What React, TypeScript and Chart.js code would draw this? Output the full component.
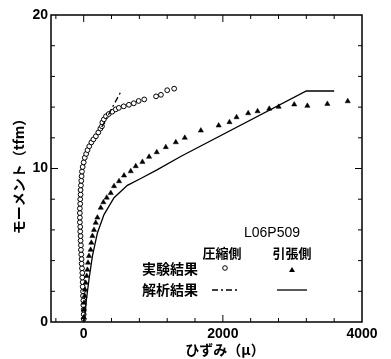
import React, { useEffect, useRef } from "react";
import { Chart, registerables } from "chart.js";

Chart.register(...registerables);

const xTickValues = [0, 2000, 4000];
const yTickValues = [0, 10, 20];

// 実験結果 圧縮側 (circles)
const compStrain = [0, 0, 0, -5, -5, -10, -10, -15, -15, -20, -20, -25, -30, -30, -35, -40, -40, -45, -45, -50, -50, -55, -55, -55, -55, -50, -50, -45, -45, -40, -35, -30, -25, -15, 0, 15, 35, 55, 80, 110, 140, 175, 210, 240, 262, 268, 290, 320, 360, 410, 460, 505, 575, 650, 720, 790, 870, 1040, 1110, 1200, 1300];
const compMoment = [0.2, 0.5, 0.8, 1.1, 1.4, 1.7, 2.0, 2.3, 2.6, 2.9, 3.2, 3.5, 3.8, 4.1, 4.4, 4.7, 5.0, 5.3, 5.6, 5.9, 6.2, 6.5, 6.8, 7.1, 7.4, 7.7, 8.0, 8.3, 8.6, 8.9, 9.2, 9.5, 9.8, 10.1, 10.4, 10.7, 10.95, 11.2, 11.45, 11.7, 11.9, 12.1, 12.35, 12.6, 12.75, 13.0, 13.2, 13.4, 13.55, 13.7, 13.85, 13.95, 14.05, 14.15, 14.25, 14.4, 14.5, 14.7, 14.8, 15.1, 15.2];

// 実験結果 引張側 (triangles)
const tensStrain = [0, 0, 5, 14, 19, 29, 43, 53, 62, 76, 100, 110, 125, 148, 173, 197, 245, 283, 331, 389, 436, 508, 580, 676, 748, 844, 940, 1050, 1180, 1324, 1453, 1684, 1940, 2095, 2197, 2364, 2499, 2667, 2802, 3026, 3215, 3502, 3795];
const tensMoment = [0.3, 0.8, 1.25, 1.7, 2.1, 2.55, 3.0, 3.4, 3.86, 4.3, 4.7, 5.16, 5.6, 6.0, 6.46, 6.8, 7.44, 7.8, 8.1, 8.4, 8.85, 9.17, 9.54, 9.82, 10.15, 10.43, 10.76, 11.06, 11.39, 11.71, 12.0, 12.47, 12.8, 13.02, 13.34, 13.6, 13.73, 13.89, 14.02, 14.17, 14.08, 14.21, 14.38];

// 解析結果 圧縮側 (dash-dot)
const anaCompStrain = [260, 545];
const anaCompMoment = [12.7, 15.1];

// 解析結果 引張側 (solid)
const anaTensStrain = [0, 14, 40, 76, 125, 197, 292, 436, 628, 820, 1060, 1400, 3200, 3600];
const anaTensMoment = [0, 0.3, 1.5, 2.77, 4.29, 5.8, 7.0, 8.1, 8.9, 9.35, 9.93, 10.8, 15.05, 15.05];

const toPts = (xs: number[], ys: number[]) => xs.map((x, i) => ({ x, y: ys[i] }));

const FONT_NUM = '"Liberation Sans", Arial, sans-serif';
const FONT_JP = '"Noto Sans CJK JP", "Noto Sans", sans-serif';

const framePlugin = {
  id: "frame",
  afterDatasetsDraw(chart: any) {
    const ctx = chart.ctx;
    const { left, right, top, bottom } = chart.chartArea;
    const xs = chart.scales.x;
    const ys = chart.scales.y;
    ctx.save();
    ctx.strokeStyle = "#000";
    ctx.lineWidth = 1.5;
    ctx.strokeRect(left, top, right - left, bottom - top);
    ctx.lineWidth = 1;
    for (let v = -400; v <= 4000; v += 400) {
      const px = xs.getPixelForValue(v);
      if (px < left + 1 || px > right - 1) continue;
      const len = v % 2000 === 0 ? 7 : 4;
      ctx.beginPath();
      ctx.moveTo(px, bottom);
      ctx.lineTo(px, bottom - len);
      ctx.moveTo(px, top);
      ctx.lineTo(px, top + len);
      ctx.stroke();
    }
    for (let v = 0; v <= 20; v += 2) {
      const py = ys.getPixelForValue(v);
      if (py < top + 1 || py > bottom - 1) continue;
      const len = v % 10 === 0 ? 7 : 4;
      ctx.beginPath();
      ctx.moveTo(left, py);
      ctx.lineTo(left + len, py);
      ctx.moveTo(right, py);
      ctx.lineTo(right - len, py);
      ctx.stroke();
    }
    ctx.restore();
  },
};

const annotPlugin = {
  id: "annot",
  afterDraw(chart: any) {
    const ctx = chart.ctx;
    ctx.save();
    ctx.fillStyle = "#000";
    ctx.strokeStyle = "#000";
    ctx.textAlign = "center";
    ctx.textBaseline = "middle";
    // legend
    ctx.font = `14px ${FONT_NUM}`;
    ctx.fillText("L06P509", 272, 233);
    ctx.font = `bold 13px ${FONT_JP}`;
    ctx.fillText("圧縮側", 222, 253);
    ctx.fillText("引張側", 292, 253);
    ctx.font = `bold 14px ${FONT_JP}`;
    ctx.fillText("実験結果", 170, 269);
    ctx.fillText("解析結果", 170, 290);
    // markers
    ctx.lineWidth = 1;
    ctx.beginPath();
    ctx.arc(225, 268, 2.3, 0, Math.PI * 2);
    ctx.fillStyle = "#fff";
    ctx.fill();
    ctx.stroke();
    ctx.fillStyle = "#000";
    ctx.beginPath();
    ctx.moveTo(292, 267);
    ctx.lineTo(295, 272);
    ctx.lineTo(289, 272);
    ctx.closePath();
    ctx.fill();
    ctx.lineWidth = 1.3;
    ctx.setLineDash([6, 3, 2, 3]);
    ctx.beginPath();
    ctx.moveTo(212, 290);
    ctx.lineTo(238, 290);
    ctx.stroke();
    ctx.setLineDash([]);
    ctx.beginPath();
    ctx.moveTo(277, 290);
    ctx.lineTo(307, 290);
    ctx.stroke();
    // axis titles
    ctx.font = `bold 14px ${FONT_JP}`;
    ctx.fillText("ひずみ（μ）", 225, 350);
    ctx.translate(19, 173);
    ctx.rotate(-Math.PI / 2);
    ctx.fillText("モーメント（tfm）", 0, 0);
    ctx.restore();
  },
};

export default function App() {
  const ref = useRef<HTMLCanvasElement>(null);
  useEffect(() => {
    if (!ref.current) return;
    const chart = new Chart(ref.current, {
      type: "scatter",
      data: {
        datasets: [
          {
            label: "解析結果 引張側",
            data: toPts(anaTensStrain, anaTensMoment),
            showLine: true,
            borderColor: "#000",
            borderWidth: 1.3,
            pointRadius: 0,
            fill: false,
          },
          {
            label: "解析結果 圧縮側",
            data: toPts(anaCompStrain, anaCompMoment),
            showLine: true,
            borderColor: "#000",
            borderWidth: 1.3,
            borderDash: [6, 3, 2, 3],
            pointRadius: 0,
            fill: false,
          },
          {
            label: "実験結果 引張側",
            data: toPts(tensStrain, tensMoment),
            pointStyle: "triangle",
            pointRadius: 3,
            backgroundColor: "#000",
            borderColor: "#000",
            borderWidth: 0.5,
          },
          {
            label: "実験結果 圧縮側",
            data: toPts(compStrain, compMoment),
            pointStyle: "circle",
            pointRadius: 2.4,
            backgroundColor: "#fff",
            borderColor: "#000",
            borderWidth: 1,
          },
        ],
      },
      options: {
        animation: false,
        responsive: true,
        maintainAspectRatio: false,
        layout: { padding: { left: 0, top: 15, right: 29, bottom: 0 } },
        plugins: { legend: { display: false }, tooltip: { enabled: false } },
        scales: {
          x: {
            type: "linear",
            min: -470,
            max: 4000,
            grid: { display: false, drawTicks: false },
            border: { display: false },
            afterBuildTicks: (s: any) => {
              s.ticks = xTickValues.map((v) => ({ value: v }));
            },
            afterFit: (s: any) => {
              s.height = 37;
            },
            ticks: {
              color: "#000",
              padding: 4,
              maxRotation: 0,
              autoSkip: false,
              font: { family: FONT_NUM, size: 14, weight: "bold" },
              callback: (v: any) => String(v),
            },
          },
          y: {
            type: "linear",
            min: 0,
            max: 20,
            grid: { display: false, drawTicks: false },
            border: { display: false },
            afterBuildTicks: (s: any) => {
              s.ticks = yTickValues.map((v) => ({ value: v }));
            },
            afterFit: (s: any) => {
              s.width = 51;
            },
            ticks: {
              color: "#000",
              padding: 3,
              autoSkip: false,
              font: { family: FONT_NUM, size: 14, weight: "bold" },
              callback: (v: any) => String(v),
            },
          },
        },
      },
      plugins: [framePlugin, annotPlugin],
    });
    return () => chart.destroy();
  }, []);
  return (
    <div style={{ position: "fixed", left: 0, top: 0, width: 391, height: 359, background: "#fff" }}>
      <canvas ref={ref} />
    </div>
  );
}
